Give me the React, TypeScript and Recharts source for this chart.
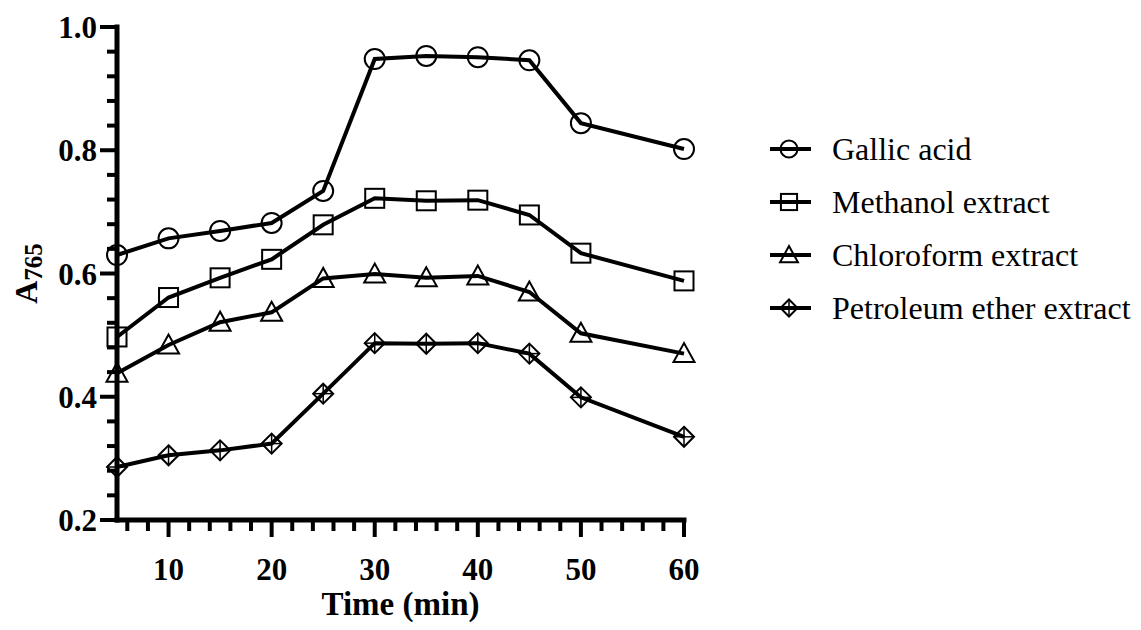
import React from "react";
import { LineChart, Line, XAxis, YAxis, Legend } from "recharts";

const times = [5, 10, 15, 20, 25, 30, 35, 40, 45, 50, 60];
const gallic = [0.63, 0.657, 0.669, 0.682, 0.734, 0.948, 0.953, 0.951, 0.946, 0.844, 0.802];
const methanol = [0.497, 0.561, 0.593, 0.623, 0.679, 0.722, 0.718, 0.719, 0.695, 0.633, 0.588];
const chloroform = [0.438, 0.484, 0.521, 0.537, 0.592, 0.599, 0.593, 0.596, 0.57, 0.503, 0.47];
const petroleum = [0.286, 0.305, 0.313, 0.324, 0.405, 0.487, 0.486, 0.487, 0.47, 0.399, 0.335];

const xTicks = [6, 8, 10, 12, 14, 16, 18, 20, 22, 24, 26, 28, 30, 32, 34, 36, 38, 40, 42, 44, 46, 48, 50, 52, 54, 56, 58, 60];
const xLabels = [10, 20, 30, 40, 50, 60];
const yTicks = [0.2, 0.24, 0.28, 0.32, 0.36, 0.4, 0.44, 0.48, 0.52, 0.56, 0.6, 0.64, 0.68, 0.72, 0.76, 0.8, 0.84, 0.88, 0.92, 0.96, 1.0];
const yLabels = ["0.2", "0.4", "0.6", "0.8", "1.0"];

const FONT = '"Liberation Serif", "Times New Roman", serif';

const data = times.map((t, i) => ({
  t,
  gallic: gallic[i],
  methanol: methanol[i],
  chloroform: chloroform[i],
  petroleum: petroleum[i],
}));

type Shape = "circle" | "square" | "triangle" | "diamond";

function Marker({ cx, cy, shape, s = 1 }: { cx: number; cy: number; shape: Shape; s?: number }) {
  const st = { fill: "none", stroke: "#000", strokeWidth: 2 };
  if (shape === "circle") return <circle cx={cx} cy={cy} r={10 * s} {...st} />;
  if (shape === "square")
    return <rect x={cx - 9.5 * s} y={cy - 9.5 * s} width={19 * s} height={19 * s} {...st} />;
  if (shape === "triangle")
    return (
      <polygon
        points={`${cx},${cy - 10.5 * s} ${cx - 10.5 * s},${cy + 8.5 * s} ${cx + 10.5 * s},${cy + 8.5 * s}`}
        {...st}
      />
    );
  const r = 10 * s;
  return (
    <g>
      <polygon points={`${cx},${cy - r} ${cx + r},${cy} ${cx},${cy + r} ${cx - r},${cy}`} {...st} />
      <line x1={cx} y1={cy - r} x2={cx} y2={cy + r} stroke="#000" strokeWidth={1.5} />
      <line x1={cx - r} y1={cy} x2={cx + r} y2={cy} stroke="#000" strokeWidth={1.5} />
    </g>
  );
}

const series: { key: string; name: string; shape: Shape }[] = [
  { key: "gallic", name: "Gallic acid", shape: "circle" },
  { key: "methanol", name: "Methanol extract", shape: "square" },
  { key: "chloroform", name: "Chloroform extract", shape: "triangle" },
  { key: "petroleum", name: "Petroleum ether extract", shape: "diamond" },
];

const XTick = (props: any) => {
  const { x, y, payload } = props;
  const v = payload.value as number;
  const major = xLabels.includes(v);
  return (
    <g>
      <line x1={x} y1={y} x2={x} y2={y + (major ? 17 : 11)} stroke="#000" strokeWidth={4} />
      {major && (
        <text x={x} y={y + 60} textAnchor="middle" fontFamily={FONT} fontWeight="bold" fontSize={31} fill="#000">
          {v}
        </text>
      )}
    </g>
  );
};

const YTick = (props: any) => {
  const { x, y, payload } = props;
  const v = payload.value as number;
  const lbl = yLabels.find((l) => Math.abs(parseFloat(l) - v) < 1e-6);
  return (
    <g>
      <line x1={x} y1={y} x2={x - (lbl ? 17 : 10)} y2={y} stroke="#000" strokeWidth={4} />
      {lbl && (
        <text x={x - 20} y={y + 11} textAnchor="end" fontFamily={FONT} fontWeight="bold" fontSize={31} fill="#000">
          {lbl}
        </text>
      )}
    </g>
  );
};

const LegendContent = () => (
  <div style={{ fontFamily: FONT }}>
    {series.map((s) => (
      <div key={s.key} style={{ height: 53, display: "flex", alignItems: "center" }}>
        <svg width={62} height={30} style={{ flex: "none" }}>
          <line x1={0} y1={15} x2={41} y2={15} stroke="#000" strokeWidth={4} />
          <Marker cx={19} cy={15} shape={s.shape} s={0.85} />
        </svg>
        <span style={{ fontSize: 32, color: "#000", whiteSpace: "nowrap", lineHeight: "32px" }}>{s.name}</span>
      </div>
    ))}
  </div>
);

export default function App() {
  return (
    <LineChart
      width={1133}
      height={622}
      data={data}
      margin={{ top: 19, right: 77, left: 9, bottom: 10 }}
      style={{ fontFamily: FONT }}
    >
      <XAxis
        dataKey="t"
        type="number"
        domain={[5, 60]}
        ticks={xTicks}
        interval={0}
        height={100}
        tickSize={0}
        tickMargin={0}
        tickLine={false}
        tick={<XTick />}
        axisLine={{ stroke: "#000", strokeWidth: 5, strokeLinecap: "square" }}
        label={({ viewBox }: any) => (
          <text
            x={viewBox.x + viewBox.width / 2}
            y={viewBox.y + 95}
            textAnchor="middle"
            fontFamily={FONT}
            fontWeight="bold"
            fontSize={33}
            fill="#000"
          >
            Time (min)
          </text>
        )}
      />
      <YAxis
        type="number"
        domain={[0.2, 1.0]}
        ticks={yTicks}
        interval={0}
        width={100}
        tickSize={0}
        tickMargin={0}
        tickLine={false}
        tick={<YTick />}
        axisLine={{ stroke: "#000", strokeWidth: 5, strokeLinecap: "square" }}
        label={({ viewBox }: any) => {
          const cy = viewBox.y + viewBox.height / 2;
          return (
            <text
              x={29}
              y={cy}
              transform={`rotate(-90, 29, ${cy})`}
              textAnchor="middle"
              fontFamily={FONT}
              fontWeight="bold"
              fill="#000"
            >
              <tspan fontSize={32}>A</tspan>
              <tspan fontSize={25} dy={5}>
                765
              </tspan>
            </text>
          );
        }}
      />
      <Legend
        layout="vertical"
        align="right"
        verticalAlign="top"
        width={380}
        content={<LegendContent />}
        wrapperStyle={{ left: 762, top: 114 }}
      />
      {series.map((s) => (
        <Line
          key={s.key}
          dataKey={s.key}
          name={s.name}
          type="linear"
          stroke="#000"
          strokeWidth={4}
          isAnimationActive={false}
          dot={(p: any) => <Marker key={`${s.key}-${p.index}`} cx={p.cx} cy={p.cy} shape={s.shape} />}
          activeDot={false}
        />
      ))}
    </LineChart>
  );
}
